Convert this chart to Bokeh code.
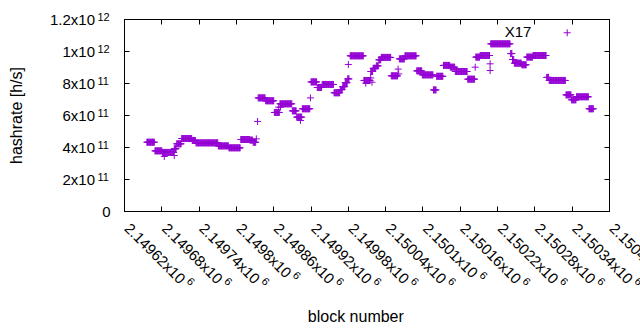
import numpy as np
from bokeh.plotting import figure
from bokeh.models import Range1d, FixedTicker, LinearAxis, ColumnDataSource
from bokeh.embed import file_html
from bokeh.resources import INLINE
from bokeh.core.properties import value

# ---- data: plateaus of hashrate per block (values in units of 1e11 h/s) ----
seg_start = [2149656, 2149669, 2149681, 2149700, 2149704, 2149712, 2149729, 2149735, 2149771, 2149788,
             2149807, 2149822, 2149827, 2149835, 2149847, 2149861, 2149870, 2149890, 2149897, 2149906,
             2149920, 2149930, 2149938, 2149957, 2149967, 2149971, 2149975, 2149979, 2149983, 2150005,
             2150016, 2150020, 2150025, 2150029, 2150033, 2150049, 2150062, 2150071, 2150090, 2150099,
             2150117, 2150122, 2150133, 2150144, 2150152, 2150172, 2150185, 2150192, 2150209, 2150241,
             2150244, 2150247, 2150259, 2150267, 2150277, 2150299, 2150303, 2150330, 2150339, 2150347,
             2150367]
seg_end = [2149668, 2149680, 2149699, 2149703, 2149711, 2149728, 2149734, 2149770, 2149787, 2149806,
           2149821, 2149826, 2149831, 2149846, 2149860, 2149869, 2149889, 2149896, 2149905, 2149918,
           2149929, 2149937, 2149956, 2149966, 2149970, 2149974, 2149978, 2149981, 2150004, 2150015,
           2150019, 2150024, 2150028, 2150032, 2150048, 2150059, 2150070, 2150089, 2150098, 2150116,
           2150121, 2150132, 2150143, 2150151, 2150171, 2150183, 2150191, 2150207, 2150240, 2150243,
           2150246, 2150258, 2150266, 2150276, 2150298, 2150302, 2150329, 2150338, 2150346, 2150366,
           2150374]
seg_value = [4.33, 3.79, 3.69, 3.92, 4.23, 4.56, 4.44, 4.29, 4.10, 3.98,
             4.50, 4.46, 4.33, 7.10, 6.92, 6.19, 6.73, 6.29, 5.90, 6.42,
             8.10, 7.75, 7.94, 7.42, 7.62, 7.80, 8.05, 8.29, 9.73, 8.19,
             8.75, 8.95, 9.10, 9.48, 9.63, 8.48, 9.54, 9.73, 8.79, 8.54,
             7.60, 8.45, 9.13, 9.02, 8.75, 8.27, 9.65, 9.75, 10.48, 9.87,
             9.50, 9.27, 9.17, 9.65, 9.75, 8.38, 8.19, 7.29, 6.98, 7.17,
             6.42]
single_block = [2149684, 2149700, 2149832, 2149834, 2149868, 2149871, 2149903, 2149919, 2149980,
                2150008, 2150016, 2150018, 2150060, 2150061, 2150184, 2150208, 2150208, 2150332]
single_value = [3.44, 3.50, 4.54, 5.63, 6.52, 6.52, 5.69, 7.10, 9.19,
                8.02, 8.35, 8.08, 8.90, 8.60, 9.02, 9.23, 8.81, 11.17]

x_ticks = [2149620, 2149680, 2149740, 2149800, 2149860, 2149920, 2149980,
           2150040, 2150100, 2150160, 2150220, 2150280, 2150340, 2150400]
x_tick_main = ["2.14962x10", "2.14968x10", "2.14974x10", "2.1498x10", "2.14986x10", "2.14992x10",
               "2.14998x10", "2.15004x10", "2.1501x10", "2.15016x10", "2.15022x10", "2.15028x10",
               "2.15034x10", "2.1504x10"]
x_tick_sup = ["6"] * 14
y_ticks = [0, 2e11, 4e11, 6e11, 8e11, 1e12, 1.2e12]
y_tick_main = ["0", "2x10", "4x10", "6x10", "8x10", "1x10", "1.2x10"]
y_tick_sup = ["", "11", "11", "11", "11", "12", "12"]

x_title = "block number"
y_title = "hashrate [h/s]"
note_text = "X17"
note_x = 2150253
note_y = 11.26e11

# ---- build per-block series ----
blocks, rates = [], []
for s, e, v in zip(seg_start, seg_end, seg_value):
    for b in range(s, e + 1):
        blocks.append(b)
        rates.append(v * 1e11)
for b, v in zip(single_block, single_value):
    blocks.append(b)
    rates.append(v * 1e11)

FONT = "Liberation Sans"
COLOR = "#9400D3"
FS_TICK = 15
FS_SUP = 11

p = figure(width=640, height=330, output_backend="svg", toolbar_location=None,
           x_range=Range1d(x_ticks[0], x_ticks[-1]), y_range=Range1d(y_ticks[0], y_ticks[-1]),
           min_border_left=124, min_border_right=31, min_border_top=19, min_border_bottom=119)
p.grid.visible = False
p.outline_line_color = "black"
p.background_fill_color = "white"
p.border_fill_color = "white"

bottom_ax = p.below[0]
left_ax = p.left[0]
bottom_ax.ticker = FixedTicker(ticks=x_ticks)
left_ax.ticker = FixedTicker(ticks=y_ticks)
top_ax = LinearAxis(ticker=FixedTicker(ticks=x_ticks))
right_ax = LinearAxis(ticker=FixedTicker(ticks=y_ticks))
p.add_layout(top_ax, "above")
p.add_layout(right_ax, "right")
for ax in [bottom_ax, left_ax, top_ax, right_ax]:
    ax.major_tick_in = 5
    ax.major_tick_out = 0
    ax.minor_tick_line_color = None
    ax.major_label_text_color = None
    ax.major_label_standoff = 0
    ax.axis_line_color = "black"
    ax.major_tick_line_color = "black"
    ax.axis_label = None

p.scatter(blocks, rates, marker="cross", size=7, line_color=COLOR, line_width=1)

# ---- tick labels with superscripts (text glyphs drawn unclipped at overlay level) ----
cw = {"0": 0.556, "1": 0.556, "2": 0.556, "3": 0.556, "4": 0.556, "5": 0.556, "6": 0.556,
      "7": 0.556, "8": 0.556, "9": 0.556, ".": 0.278, "x": 0.5}
r2 = 0.7071
dx0, dy0 = 9.0, 8.0
gap, raise_ = 3.0, 1.0
mx, my, sxo, syo = [], [], [], []
for t in x_tick_main:
    w = sum(cw[c] for c in t) * FS_TICK
    along = w + gap
    mx.append(dx0)
    my.append(dy0)
    sxo.append(dx0 + along * r2 + raise_ * r2)
    syo.append(dy0 + along * r2 - raise_ * r2)
zeros = [0.0] * len(x_ticks)
xsrc = ColumnDataSource(dict(x=x_ticks, y=zeros, t=x_tick_main, s=x_tick_sup,
                             mx=mx, my=my, sx=sxo, sy=syo))
p.text(x="x", y="y", text="t", source=xsrc, x_offset="mx", y_offset="my",
       angle=-np.pi / 4, text_align="left", text_baseline="top",
       text_font=value(FONT), text_font_size=value(f"{FS_TICK}px"), text_color="black",
       level="overlay")
p.text(x="x", y="y", text="s", source=xsrc, x_offset="sx", y_offset="sy",
       angle=-np.pi / 4, text_align="left", text_baseline="top",
       text_font=value(FONT), text_font_size=value(f"{FS_SUP}px"), text_color="black",
       level="overlay")

ymx = [-14.0 if s == "" else -29.5 for s in y_tick_sup]
ysrc = ColumnDataSource(dict(x=[x_ticks[0]] * len(y_ticks), y=y_ticks, t=y_tick_main, s=y_tick_sup,
                             mx=ymx, sx=[-27.0] * len(y_ticks), sy=[-3.0] * len(y_ticks)))
p.text(x="x", y="y", text="t", source=ysrc, x_offset="mx", y_offset=0,
       text_align="right", text_baseline="middle",
       text_font=value(FONT), text_font_size=value(f"{FS_TICK}px"), text_color="black",
       level="overlay")
p.text(x="x", y="y", text="s", source=ysrc, x_offset="sx", y_offset="sy",
       text_align="left", text_baseline="middle",
       text_font=value(FONT), text_font_size=value(f"{FS_SUP}px"), text_color="black",
       level="overlay")

# ---- axis titles and note ----
p.text(x=[x_ticks[0]], y=[(y_ticks[0] + y_ticks[-1]) / 2], text=[y_title], x_offset=-108,
       angle=np.pi / 2, text_align="center", text_baseline="middle",
       text_font=value(FONT), text_font_size=value("16px"), text_color="black", level="overlay")
p.text(x=[2149992], y=[0], text=[x_title], y_offset=105,
       text_align="center", text_baseline="middle",
       text_font=value(FONT), text_font_size=value("16px"), text_color="black", level="overlay")
p.text(x=[note_x], y=[note_y], text=[note_text], text_align="center", text_baseline="middle",
       text_font=value(FONT), text_font_size=value("15px"), text_color="black", level="overlay")

open("out.html", "w").write(file_html(p, INLINE))
